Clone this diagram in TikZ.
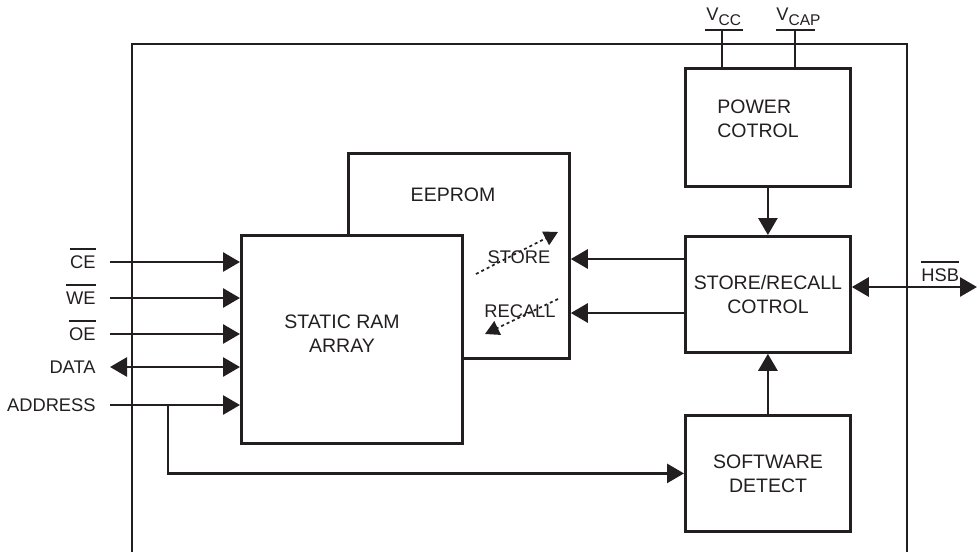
\documentclass[tikz,border=0pt]{standalone}
\usepackage{fontspec}
\setmainfont{Liberation Sans}
\usetikzlibrary{arrows.meta}
\definecolor{ink}{HTML}{231F20}
\newcommand{\ovl}[1]{\setbox0=\hbox{#1}\rlap{\rule[\dimexpr\ht0+5pt\relax]{\wd0}{2pt}}\box0}
\begin{document}
\begin{tikzpicture}[x=1pt,y=-1pt, line width=2.8pt, color=ink,
  font=\fontsize{18.3}{23}\selectfont,
  blk/.style={draw=ink, line width=2.8pt, inner sep=0pt, anchor=north west},
  lbl/.style={inner sep=0pt, text=ink},
  big/.style={font=\fontsize{19.5}{24}\selectfont},
  arr/.style={-{Triangle[length=17pt,width=19pt]}},
  darr/.style={{Triangle[length=17pt,width=19pt]}-{Triangle[length=17pt,width=19pt]}},
  dotarr/.style={line width=1.7pt, dash pattern=on 3pt off 3pt, -{Triangle[length=14pt,width=15pt]}}]
\useasboundingbox (0,0) rectangle (977,552);

% outer frame (open at the bottom)
\draw (132,552) -- (132,44) -- (907,44) -- (907,552);

% blocks
\node[blk, minimum width=221pt, minimum height=205pt] (ee) at (347,152) {};
\node[blk, fill=white, minimum width=221pt, minimum height=208pt] (sram) at (240,234) {};
\node[blk, fill=white, minimum width=165pt, minimum height=118pt] (pc) at (684,67) {};
\node[blk, fill=white, minimum width=165pt, minimum height=116pt] (sr) at (684,235) {};
\node[blk, fill=white, minimum width=165pt, minimum height=116pt] (sd) at (684,414) {};

% block texts
\node[lbl, big, anchor=base] (eet) at (453,201) {EEPROM};
\node[lbl, anchor=base] (stt) at (519,263) {STORE};
\node[lbl, anchor=base] (rct) at (520,317) {RECALL};
\node[lbl, big, align=center, anchor=north] (srt) at (342,313) {STATIC RAM\\ARRAY};
\node[lbl, big, align=left, anchor=north west] (pct) at (716,98) {POWER\\COTROL};
\node[lbl, big, align=center, anchor=north] (srct) at (768,274) {STORE/RECALL\\COTROL};
\node[lbl, big, align=center, anchor=north] (sdt) at (768,453) {SOFTWARE\\DETECT};

% dotted store / recall arrows
\coordinate (s1) at (476,274); \coordinate (s2) at (558,232);
\draw[dotarr] (s1) -- (s2);
\coordinate (r1) at (558,299); \coordinate (r2) at (485,334);
\draw[dotarr] (r1) -- (r2);

% left signals
\node[lbl, anchor=base east] (cel) at (97,268) {\ovl{CE}};
\node[lbl, anchor=base east] (wel) at (97,304) {\ovl{WE}};
\node[lbl, anchor=base east] (oel) at (97,340) {\ovl{OE}};
\node[lbl, anchor=base east] (dal) at (97,373) {DATA};
\node[lbl, anchor=base east] (adl) at (97,411) {ADDRESS};
\coordinate (ce) at (110,262);
\coordinate (we) at (110,298);
\coordinate (oe) at (110,334);
\coordinate (da) at (110,367);
\coordinate (ad) at (110,405);
\coordinate (br) at (168,405);
\draw[arr] (ce) -- (ce -| sram.west);
\draw[arr] (we) -- (we -| sram.west);
\draw[arr] (oe) -- (oe -| sram.west);
\draw[darr] (da) -- (da -| sram.west);
\draw[arr] (ad) -- (ad -| sram.west);
\draw[arr] (br) |- (sd.west);

% control arrows
\draw[arr] (pc.south) -- (sr.north);
\draw[arr] (sd.north) -- (sr.south);
\coordinate (st) at (684,259);
\coordinate (rc) at (684,313);
\draw[arr] (st) -- (st -| ee.east);
\draw[arr] (rc) -- (rc -| ee.east);

% HSB
\coordinate (hsb) at (977,287);
\draw[darr] (sr.east |- hsb) -- (hsb);
\node[lbl, anchor=base west] (hsbl) at (920,281) {\ovl{HSB}};

% supply pins
\coordinate (vcca) at (705,30); \coordinate (vccb) at (743,30);
\coordinate (vcc) at (722,30);
\draw (vcca) -- (vccb);
\draw (vcc) -- (vcc |- pc.north);
\coordinate (vcpa) at (776,30); \coordinate (vcpb) at (815,30);
\coordinate (vcp) at (795,30);
\draw (vcpa) -- (vcpb);
\draw (vcp) -- (vcp |- pc.north);
\node[lbl, anchor=base west] (vccl) at (705,20) {V\raisebox{-5pt}{\fontsize{15.5}{18}\selectfont CC}};
\node[lbl, anchor=base west] (vcpl) at (775,20) {V\raisebox{-5pt}{\fontsize{15.5}{18}\selectfont CAP}};
\end{tikzpicture}
\end{document}
